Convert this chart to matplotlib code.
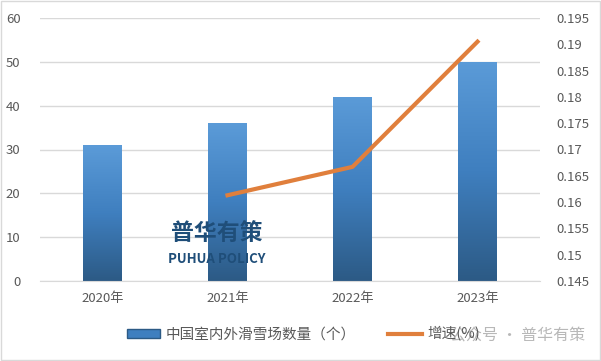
import numpy as np
import matplotlib.pyplot as plt
from matplotlib.lines import Line2D
from matplotlib.patches import Patch, Rectangle
from matplotlib.colors import LinearSegmentedColormap

plt.rcParams['font.family'] = ['Noto Sans CJK SC', 'DejaVu Sans']

years = ['2020年', '2021年', '2022年', '2023年']
counts = [31, 36, 42, 50]
growth_years = ['2021年', '2022年', '2023年']
growth = [0.1613, 0.1667, 0.1905]

bar_name = '中国室内外滑雪场数量（个）'
line_name = '增速(%)'

fig = plt.figure(figsize=(6.01, 3.61), dpi=100)
ax = fig.add_axes([40 / 601, 1 - 281 / 361, 500 / 601, 263 / 361])
ax2 = ax.twinx()

x = np.arange(len(years))
bars = ax.bar(x, counts, width=0.31, color='none', zorder=2)

# vertical gradient inside each bar
grad = np.linspace(0, 1, 256).reshape(-1, 1)
cmap = LinearSegmentedColormap.from_list('bl', ['#2c5a85', '#3f7fbf', '#5b9bd8'])
for b in bars:
    x0, y0, w, h = b.get_x(), b.get_y(), b.get_width(), b.get_height()
    im = ax.imshow(grad, extent=[x0, x0 + w, y0, y0 + h], origin='lower',
                   cmap=cmap, aspect='auto', zorder=2)
    im.set_clip_path(Rectangle((x0, y0), w, h, transform=ax.transData))

ax.set_xlim(-0.5, 3.5)
ax.set_ylim(0, 60)
ax.set_yticks(range(0, 61, 10))
ax.grid(axis='y', color='#d9d9d9', linewidth=1)
ax.set_axisbelow(True)
ax.set_xticks(x)
ax.set_xticklabels(years)

gx = [years.index(y) for y in growth_years]
ax2.plot(gx, growth, color='#e07f3c', linewidth=3, zorder=3)
ax2.set_ylim(0.145, 0.195)
ticks2 = np.arange(0.145, 0.1951, 0.005)
ax2.set_yticks(ticks2)
ax2.set_yticklabels(['%g' % round(v, 3) for v in ticks2])

for a in (ax, ax2):
    for s in a.spines.values():
        s.set_visible(False)
    a.tick_params(length=0, labelsize=9.5, colors='#595959')
ax.spines['bottom'].set_visible(True)
ax.spines['bottom'].set_color('#d9d9d9')
ax.tick_params(axis='x', pad=8)
ax.tick_params(axis='y', pad=14)
ax2.tick_params(axis='y', pad=12)

# logo watermark
fig.text(217 / 601, 1 - 233 / 361, '普华有策', fontsize=16.5, fontweight='heavy',
         color='#1f4e79', ha='center', va='center')
fig.text(217 / 601, 1 - 259 / 361, 'PUHUA POLICY', fontsize=9.5, fontweight='bold',
         color='#1f4e79', ha='center', va='center')

handles = [Patch(facecolor='#3f7fbf', edgecolor='#2c5a85'),
           Line2D([0], [0], color='#e07f3c', linewidth=3)]
fig.legend(handles, [bar_name, line_name], loc='center', ncol=2,
           bbox_to_anchor=(0.505, 1 - 334 / 361), frameon=False, fontsize=10.5,
           labelcolor='#595959', handlelength=2.3, handleheight=0.6,
           columnspacing=2.2, handletextpad=0.4)

fig.text(585 / 601, 1 - 336 / 361, '公众号 · 普华有策', fontsize=11.5,
         color='#a0a0a0', alpha=0.75, ha='right', va='center')

fig.patches.append(Rectangle((0.002, 0.003), 0.996, 0.994, transform=fig.transFigure,
                             fill=False, edgecolor='#d9d9d9', linewidth=1))

fig.savefig('out.png', dpi=100)
